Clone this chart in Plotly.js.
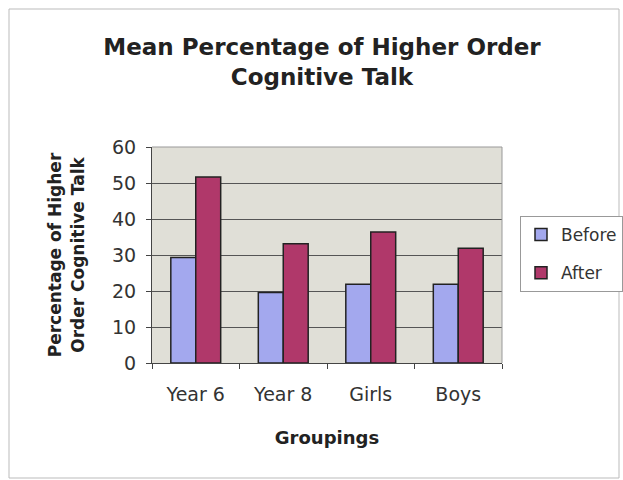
<!DOCTYPE html>
<html>
<head>
<meta charset="utf-8">
<script src="https://cdn.plot.ly/plotly-3.0.1.min.js"></script>
<style>html,body{margin:0;padding:0;background:#fff;}#chart{width:623px;height:480px;}</style>
</head>
<body>
<div id="chart"></div>
<script>
const categories = ["Year 6", "Year 8", "Girls", "Boys"];
const beforeValues = [29.3, 19.6, 21.9, 21.9];
const afterValues = [51.7, 33.1, 36.4, 31.9];
const seriesNames = ["Before", "After"];
const yTicks = [0, 10, 20, 30, 40, 50, 60];

const W = 623, H = 480;
const L = 152, R = 502, T = 147, B = 363;
const pw = R - L, ph = B - T;
const px = v => (v - L) / pw;
const py = v => (B - v) / ph;

const font = "DejaVu Sans, Arial, sans-serif";

const traces = [
  {type: "bar", name: seriesNames[0], x: categories, y: beforeValues, legendgroup: "a",
   marker: {color: "#a3a8ee", line: {color: "#222", width: 1.5}}},
  {type: "bar", name: seriesNames[1], x: categories, y: afterValues, legendgroup: "b",
   marker: {color: "#b0386a", line: {color: "#222", width: 1.5}}}
];

const layout = {
  width: W, height: H,
  margin: {l: L, r: W - R, t: T, b: H - B, autoexpand: false},
  paper_bgcolor: "#ffffff",
  plot_bgcolor: "#e0dfd7",
  font: {family: font, color: "#333", size: 19},
  title: {text: "<b>Mean Percentage of Higher Order<br>Cognitive Talk</b>",
          font: {family: font, size: 23, color: "#222"},
          x: px(322), xref: "paper", xanchor: "center",
          y: 1 - 55 / H, yref: "container", yanchor: "middle"},
  barmode: "group", bargap: 0.43, bargroupgap: 0,
  showlegend: true,
  legend: {x: px(520), xanchor: "left", y: py(216), yanchor: "top",
           bordercolor: "#999", borderwidth: 1, bgcolor: "#fff",
           font: {family: font, size: 17, color: "#333"},
           traceorder: "grouped", tracegroupgap: 13},
  xaxis: {type: "category", showline: true, linecolor: "#444", linewidth: 1, mirror: false,
          ticks: "outside", tickson: "boundaries", ticklen: 5, tickcolor: "#444",
          ticklabelstandoff: 14,
          tickfont: {family: font, size: 19, color: "#333"},
          title: {text: "<b>Groupings</b>", font: {family: font, size: 18, color: "#222"}, standoff: 27},
          automargin: false},
  yaxis: {range: [0, 60], tickvals: yTicks, showline: true, linecolor: "#444", linewidth: 1,
          ticks: "outside", ticklen: 5, tickcolor: "#444", ticklabelstandoff: 6,
          showgrid: true, gridcolor: "#555", gridwidth: 1, zeroline: false,
          tickfont: {family: font, size: 19, color: "#333"},
          title: {text: "<b>Percentage of Higher<br>Order Cognitive Talk</b>", font: {family: font, size: 17, color: "#222"}, standoff: 23},
          automargin: false},
  shapes: [
    {type: "rect", xref: "paper", yref: "paper", x0: px(9), x1: px(619), y0: py(478), y1: py(9),
     line: {color: "#bbb", width: 1}, fillcolor: "rgba(0,0,0,0)", layer: "below"},
    {type: "line", xref: "paper", yref: "paper", x0: 0, x1: 1, y0: 1, y1: 1, line: {color: "#999", width: 1}},
    {type: "line", xref: "paper", yref: "paper", x0: 1, x1: 1, y0: 0, y1: 1, line: {color: "#999", width: 1}}
  ]
};

Plotly.newPlot("chart", traces, layout, {staticPlot: true, displayModeBar: false});
</script>
</body>
</html>
